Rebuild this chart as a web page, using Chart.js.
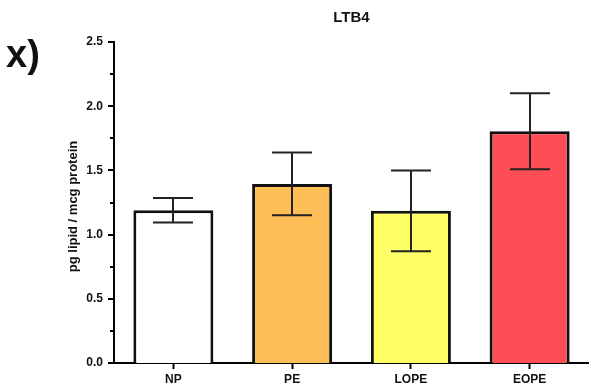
<!DOCTYPE html>
<html>
<head>
<meta charset="utf-8">
<script src="https://cdn.jsdelivr.net/npm/chart.js@4.4.1/dist/chart.umd.min.js"></script>
<style>
  html, body { margin: 0; padding: 0; background: #ffffff; }
  canvas { display: block; }
</style>
</head>
<body>
<canvas id="c" width="589" height="391"></canvas>
<script>
// ---- data ----
const categories = ['NP', 'PE', 'LOPE', 'EOPE'];
const means = [1.19, 1.395, 1.185, 1.805];
const errors = [0.095, 0.245, 0.315, 0.296];
const barColors = ['#FFFFFF', '#FCBE55', '#FFFF66', '#FF4D55'];
const yTickValues = [0, 0.5, 1.0, 1.5, 2.0, 2.5];
const chartTitle = 'LTB4';
const yTitle = 'pg lipid / mcg protein';
const panelLabel = 'x)';

const FONT = '"Liberation Sans", Arial, Helvetica, sans-serif';

const errorBarPlugin = {
  id: 'errorBars',
  afterDatasetsDraw(chart) {
    const ctx = chart.ctx;
    const y = chart.scales.y;
    const meta = chart.getDatasetMeta(0);
    ctx.save();
    ctx.strokeStyle = '#222222';
    ctx.lineWidth = 2;
    meta.data.forEach((bar, i) => {
      const x = Math.round(bar.x);
      const yt = y.getPixelForValue(means[i] + errors[i]);
      const yb = y.getPixelForValue(means[i] - errors[i]);
      ctx.beginPath();
      ctx.moveTo(x, yt); ctx.lineTo(x, yb);
      ctx.moveTo(x - 20, yt); ctx.lineTo(x + 20, yt);
      ctx.moveTo(x - 20, yb); ctx.lineTo(x + 20, yb);
      ctx.stroke();
    });
    ctx.restore();
  }
};

const decorPlugin = {
  id: 'decor',
  afterDraw(chart) {
    const ctx = chart.ctx;
    const ca = chart.chartArea;
    const y = chart.scales.y;
    ctx.save();
    // y tick marks (major + minor)
    ctx.strokeStyle = '#000';
    ctx.lineWidth = 2;
    y.ticks.forEach(t => {
      const py = Math.round(y.getPixelForValue(t.value));
      const major = yTickValues.some(v => Math.abs(v - t.value) < 1e-6);
      const len = major ? 6 : 4;
      ctx.beginPath();
      ctx.moveTo(ca.left, py);
      ctx.lineTo(ca.left - len, py);
      ctx.stroke();
    });
    // title
    ctx.fillStyle = '#111';
    ctx.textAlign = 'center';
    ctx.textBaseline = 'middle';
    ctx.font = 'bold 15px ' + FONT;
    ctx.fillText(chartTitle, (ca.left + ca.right) / 2, 18);
    // y axis title
    ctx.save();
    ctx.translate(73, (ca.top + ca.bottom) / 2 + 4);
    ctx.rotate(-Math.PI / 2);
    ctx.font = 'bold 13px ' + FONT;
    ctx.fillText(yTitle, 0, 0);
    ctx.restore();
    // panel label
    ctx.textAlign = 'left';
    ctx.textBaseline = 'alphabetic';
    ctx.font = 'bold 38px ' + FONT;
    ctx.fillText(panelLabel, 6, 67);
    ctx.restore();
  }
};

new Chart(document.getElementById('c'), {
  type: 'bar',
  data: {
    labels: categories,
    datasets: [{
      data: means,
      backgroundColor: barColors,
      borderColor: '#111111',
      borderWidth: 3,
      categoryPercentage: 1.0,
      barPercentage: 0.674
    }]
  },
  options: {
    responsive: false,
    animation: false,
    devicePixelRatio: 1,
    layout: { padding: { top: 42, right: 0, bottom: 0, left: 0 } },
    plugins: {
      legend: { display: false },
      title: { display: false },
      tooltip: { enabled: false }
    },
    scales: {
      x: {
        afterFit(scale) { scale.height = 28; },
        grid: {
          display: true,
          offset: false,
          drawOnChartArea: false,
          drawTicks: true,
          tickLength: 6,
          tickWidth: 2,
          tickColor: '#000'
        },
        border: { display: true, color: '#000', width: 2 },
        ticks: {
          color: '#111',
          padding: 3,
          font: { family: FONT, size: 12, weight: 'bold' }
        }
      },
      y: {
        min: 0,
        max: 2.5,
        afterFit(scale) { scale.width = 114; },
        grid: { display: false, drawTicks: false },
        border: { display: true, color: '#000', width: 2 },
        ticks: {
          stepSize: 0.25,
          padding: 11,
          color: '#111',
          font: { family: FONT, size: 12, weight: 'bold' },
          callback: (v) => yTickValues.some(t => Math.abs(t - v) < 1e-6) ? Number(v).toFixed(1) : ''
        }
      }
    }
  },
  plugins: [errorBarPlugin, decorPlugin]
});
</script>
</body>
</html>
